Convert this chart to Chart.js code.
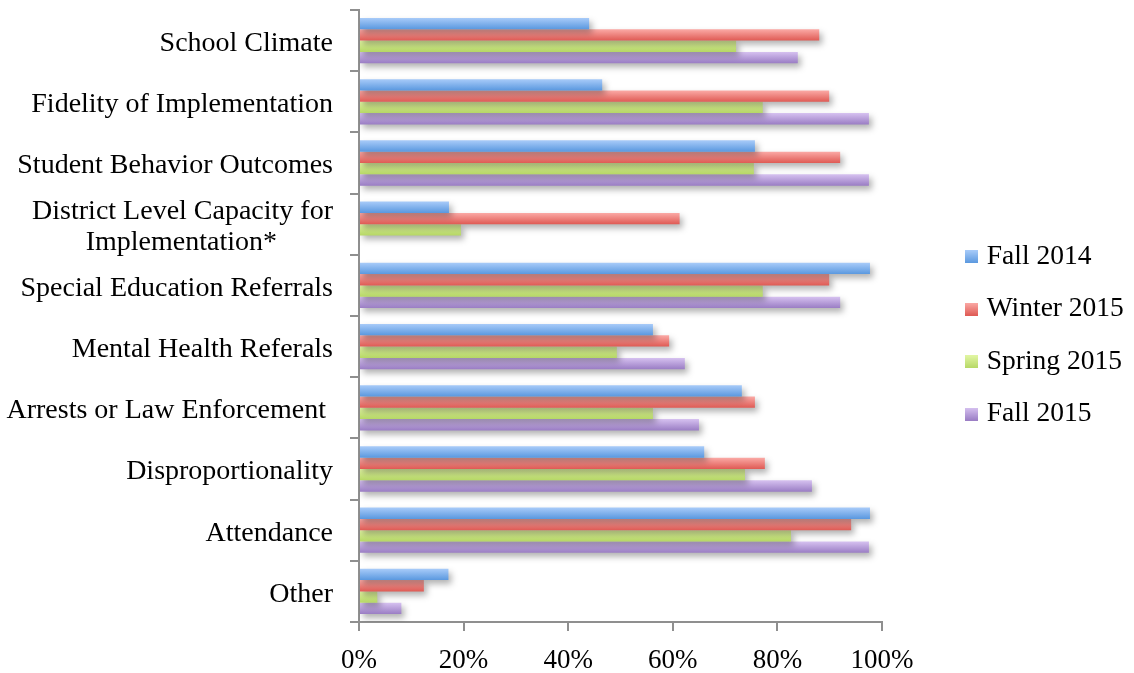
<!DOCTYPE html>
<html>
<head>
<meta charset="utf-8">
<script src="https://cdn.jsdelivr.net/npm/chart.js@4.4.0/dist/chart.umd.min.js"></script>
<style>
    body { margin: 0; background: #fff; }
    #wrap { width: 1134px; height: 673px; }
</style>
</head>
<body>
<div id="wrap"><canvas id="myChart" width="1134" height="673"></canvas></div>
<script>
// data (percent)
const kategorier = [
    'School Climate',
    'Fidelity of Implementation',
    'Student Behavior Outcomes',
    ['District Level Capacity for', 'Implementation*        '],
    'Special Education Referrals',
    'Mental Health Referals',
    'Arrests or Law Enforcement ',
    'Disproportionality',
    'Attendance',
    'Other'
];
const serieNavne = ['Fall 2014', 'Winter 2015', 'Spring 2015', 'Fall 2015'];
const fall2014 = [44, 46.5, 75.7, 17.2, 97.7, 56.2, 73.2, 66, 97.7, 17.1];
const winter2015 = [88, 89.9, 92, 61.3, 89.9, 59.3, 75.7, 77.6, 94.1, 12.4];
const spring2015 = [72.1, 77.2, 75.5, 19.5, 77.2, 49.3, 56.2, 73.8, 82.6, 3.5];
const fall2015 = [83.9, 97.5, 97.5, null, 92, 62.3, 65, 86.6, 97.5, 8.1];
const xTicks = [0, 20, 40, 60, 80, 100];

// top / bottom colour of each bar gradient
const farver = [
    ['#a8cbf9', '#5a98df'],
    ['#fbaaa6', '#df5a54'],
    ['#e2f6a4', '#b6d865'],
    ['#d6c1f0', '#9a7dc4']
];

function barFill(top, bottom) {
    return function (context) {
        const el = context.element;
        if (!el || el.y === undefined || !el.height) {
            return bottom;
        }
        const g = context.chart.ctx.createLinearGradient(0, el.y - el.height / 2, 0, el.y + el.height / 2);
        g.addColorStop(0, top);
        g.addColorStop(1, bottom);
        return g;
    };
}

// small gradient square for the legend
function swatch(top, bottom) {
    const c = document.createElement('canvas');
    c.width = 13;
    c.height = 13;
    const cx = c.getContext('2d');
    const g = cx.createLinearGradient(0, 0, 0, 13);
    g.addColorStop(0, top);
    g.addColorStop(1, bottom);
    cx.fillStyle = g;
    cx.fillRect(0, 0, 13, 13);
    return c;
}

const serier = [fall2014, winter2015, spring2015, fall2015];
const datasets = serier.map(function (værdier, i) {
    return {
        label: serieNavne[i],
        data: værdier,
        backgroundColor: barFill(farver[i][0], farver[i][1]),
        borderWidth: 0,
        categoryPercentage: 0.74,
        barPercentage: 1.0
    };
});

const skygge = {
    id: 'skygge',
    afterInit(chart) {
        const legend = chart.legend;
        const fit = legend.fit;
        legend.fit = function () {
            fit.call(this);
            this.width = 252;
        };
    },
    afterLayout(chart) {
        // place the legend items like the original
        chart.legend.left = chart.chartArea.right + 62;
        chart.legend.top -= 6;
        chart.legend.bottom -= 6;
    },
    beforeDatasetDraw(chart) {
        const ctx = chart.ctx;
        ctx.save();
        ctx.shadowColor = 'rgba(0,0,0,0.3)';
        ctx.shadowBlur = 6;
        ctx.shadowOffsetX = 3;
        ctx.shadowOffsetY = 4;
    },
    afterDatasetDraw(chart) {
        chart.ctx.restore();
    }
};

const axisGray = '#8f8f8f';
const fontFam = '"Liberation Serif", "Times New Roman", serif';

const ctx = document.getElementById('myChart').getContext('2d');
const myChart = new Chart(ctx, {
    type: 'bar',
    data: {
        labels: kategorier,
        datasets: datasets
    },
    plugins: [skygge],
    options: {
        indexAxis: 'y',
        responsive: false,
        animation: false,
        devicePixelRatio: 1,
        layout: {
            padding: { top: 10, right: 0, bottom: 0, left: 0 }
        },
        scales: {
            x: {
                min: 0,
                max: 100,
                afterBuildTicks: function (scale) {
                    scale.ticks = xTicks.map(v => ({ value: v }));
                },
                afterFit: function (scale) {
                    scale.height = 51;
                },
                ticks: {
                    callback: v => v + '%',
                    color: '#000',
                    font: { family: fontFam, size: 27 },
                    padding: 14,
                    maxRotation: 0
                },
                grid: {
                    drawOnChartArea: false,
                    color: axisGray,
                    lineWidth: 2,
                    tickLength: 9
                },
                border: { color: axisGray, width: 2 }
            },
            y: {
                afterFit: function (scale) {
                    scale.width = 359;
                    scale.paddingTop = 0;
                    scale.paddingBottom = 0;
                },
                ticks: {
                    color: '#000',
                    font: { family: fontFam, size: 28, lineHeight: 1.08 },
                    padding: 17,
                    labelOffset: 3,
                    autoSkip: false
                },
                grid: {
                    offset: true,
                    drawOnChartArea: false,
                    color: axisGray,
                    lineWidth: 2,
                    tickLength: 9
                },
                border: { color: axisGray, width: 2 }
            }
        },
        plugins: {
            legend: {
                position: 'right',
                align: 'center',
                labels: {
                    color: '#000',
                    font: { family: fontFam, size: 27.5 },
                    usePointStyle: true,
                    boxWidth: 4,
                    boxHeight: 12,
                    padding: 25,
                    generateLabels: function (chart) {
                        return chart.data.datasets.map(function (ds, i) {
                            return {
                                text: ds.label,
                                fillStyle: farver[i][1],
                                strokeStyle: farver[i][1],
                                lineWidth: 0,
                                pointStyle: swatch(farver[i][0], farver[i][1]),
                                hidden: false,
                                datasetIndex: i
                            };
                        });
                    }
                }
            },
            tooltip: { enabled: false }
        }
    }
});
myChart.update();
</script>
</body>
</html>
